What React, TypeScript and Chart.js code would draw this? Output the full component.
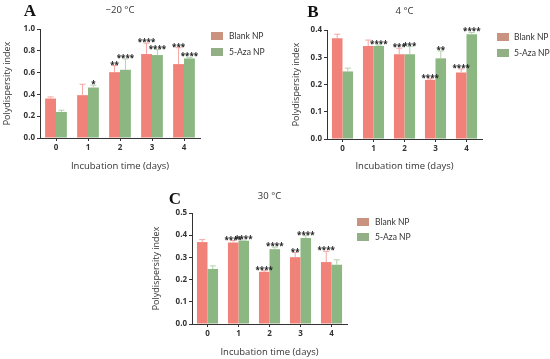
import React, { useEffect, useRef } from "react";
import { Chart, registerables } from "chart.js";
Chart.register(...registerables);

const days = ["0", "1", "2", "3", "4"];
const seriesNames = ["Blank NP", "5-Aza NP"];

// Panel A: -20 °C
const blankA = [0.362, 0.393, 0.604, 0.77, 0.678];
const azaA = [0.239, 0.463, 0.626, 0.761, 0.73];
const blankAErr = [0.015, 0.1, 0.06, 0.1, 0.15];
const azaAErr = [0.016, 0.022, 0.1, 0.05, 0.01];
const blankAStars = ["", "", "**", "****", "***"];
const azaAStars = ["", "*", "****", "****", "****"];

// Panel B: 4 °C
const blankB = [0.3695, 0.341, 0.311, 0.217, 0.244];
const azaB = [0.248, 0.341, 0.311, 0.296, 0.384];
const blankBErr = [0.015, 0.022, 0.022, 0.004, 0.013];
const azaBErr = [0.012, 0.004, 0.028, 0.027, 0.007];
const blankBStars = ["", "", "***", "****", "****"];
const azaBStars = ["", "****", "***", "**", "****"];

// Panel C: 30 °C
const blankC = [0.369, 0.367, 0.235, 0.301, 0.279];
const azaC = [0.248, 0.375, 0.337, 0.387, 0.267];
const blankCErr = [0.011, 0.009, 0.005, 0.021, 0.048];
const azaCErr = [0.014, 0.003, 0.009, 0.011, 0.022];
const blankCStars = ["", "****", "****", "**", "****"];
const azaCStars = ["", "****", "****", "****", ""];

const FONT = '"Open Sans", "DejaVu Sans", sans-serif';
const LEG_FONT = 'Lato, "Open Sans", sans-serif';
const barColors = ["#f08279", "#8cb782"];
const legendColors = ["#c9937f", "#93af86"];
const errColors = ["#f5a6a2", "#b4d2ad"];
const TEXT = "#333333";

type PanelProps = {
  left: number; top: number; width: number; height: number;
  pad: { left: number; top: number; right: number; bottom: number };
  yWidth: number; xHeight: number; yTitlePad: number; xTitlePad: number;
  yMax: number; yStep: number;
  blank: number[]; aza: number[]; blankErr: number[]; azaErr: number[];
  blankStars: string[]; azaStars: string[];
  title: string; titleDy: number;
  letter: string; letterDx: number; letterDy: number;
  legDx: number; legTextDx: number; legDy: number; legGap: number;
};

function Panel(p: PanelProps) {
  const ref = useRef<HTMLCanvasElement>(null);
  useEffect(() => {
    const errs = [p.blankErr, p.azaErr];
    const stars = [p.blankStars, p.azaStars];
    const decor = {
      id: "decor",
      afterDatasetsDraw(chart: any) {
        const ctx = chart.ctx;
        const ys = chart.scales.y;
        const ca = chart.chartArea;
        ctx.save();
        chart.data.datasets.forEach((ds: any, di: number) => {
          const meta = chart.getDatasetMeta(di);
          meta.data.forEach((bar: any, i: number) => {
            const v = ds.data[i];
            const yTop = ys.getPixelForValue(v + errs[di][i]);
            ctx.strokeStyle = errColors[di];
            ctx.lineWidth = 1;
            ctx.beginPath();
            ctx.moveTo(bar.x, bar.y);
            ctx.lineTo(bar.x, yTop);
            ctx.moveTo(bar.x - 3, yTop);
            ctx.lineTo(bar.x + 3, yTop);
            ctx.stroke();
            const s = stars[di][i];
            if (s) {
              ctx.fillStyle = "#222";
              ctx.font = `bold 8px ${FONT}`;
              ctx.textAlign = "center";
              ctx.textBaseline = "alphabetic";
              ctx.fillText(s, bar.x, yTop + 2);
            }
          });
        });
        // title
        ctx.fillStyle = TEXT;
        ctx.font = `9.5px ${FONT}`;
        ctx.textAlign = "center";
        ctx.textBaseline = "middle";
        ctx.fillText(p.title, (ca.left + ca.right) / 2, ca.top - p.titleDy);
        // letter
        ctx.fillStyle = "#111";
        ctx.font = `bold 17px "Liberation Serif", "DejaVu Serif", serif`;
        ctx.fillText(p.letter, ca.left + p.letterDx, ca.top - p.letterDy);
        // legend
        seriesNames.forEach((name, i) => {
          const y = ca.top + p.legDy + i * p.legGap;
          ctx.fillStyle = legendColors[i];
          ctx.fillRect(ca.right + p.legDx, y, 12, 8);
          ctx.fillStyle = TEXT;
          ctx.font = `8.5px ${LEG_FONT}`;
          ctx.textAlign = "left";
          ctx.textBaseline = "middle";
          ctx.fillText(name, ca.right + p.legTextDx, y + 4);
        });
        ctx.restore();
      },
    };
    const chart = new Chart(ref.current!, {
      type: "bar",
      data: {
        labels: days,
        datasets: [
          { label: seriesNames[0], data: p.blank, backgroundColor: barColors[0], categoryPercentage: 0.68, barPercentage: 1 },
          { label: seriesNames[1], data: p.aza, backgroundColor: barColors[1], categoryPercentage: 0.68, barPercentage: 1 },
        ],
      },
      options: {
        responsive: false,
        animation: false,
        layout: { padding: p.pad },
        plugins: { legend: { display: false }, tooltip: { enabled: false }, title: { display: false } },
        scales: {
          x: {
            afterFit: (s: any) => { s.height = p.xHeight; },
            grid: { display: true, offset: false, drawOnChartArea: false, drawTicks: true, tickLength: 3, color: TEXT },
            border: { display: true, color: TEXT, width: 1 },
            ticks: { color: TEXT, font: { family: FONT, size: 8, weight: "bold" }, padding: 2 },
            title: { display: true, text: "Incubation time (days)", color: TEXT, font: { family: FONT, size: 9.5 }, padding: { top: 0, bottom: p.xTitlePad } },
          },
          y: {
            min: 0, max: p.yMax,
            afterFit: (s: any) => { s.width = p.yWidth; },
            grid: { display: true, drawOnChartArea: false, drawTicks: true, tickLength: 3, color: TEXT },
            border: { display: true, color: TEXT, width: 1 },
            ticks: { stepSize: p.yStep, color: TEXT, font: { family: FONT, size: 8, weight: "bold" }, padding: 2, callback: (v: any) => Number(v).toFixed(1) },
            title: { display: true, text: "Polydispersity index", color: TEXT, font: { family: FONT, size: 9 }, padding: { top: p.yTitlePad, bottom: 0 } },
          },
        },
      },
      plugins: [decor],
    } as any);
    return () => chart.destroy();
  }, []);
  return (
    <canvas
      ref={ref}
      width={p.width}
      height={p.height}
      style={{ position: "absolute", left: p.left, top: p.top, width: p.width, height: p.height }}
    />
  );
}

export default function App() {
  return (
    <div style={{ position: "fixed", left: 0, top: 0, width: 550, height: 359, background: "#fff", overflow: "hidden" }}>
      <Panel
        left={0} top={0} width={275} height={180}
        pad={{ left: 0, top: 29, right: 75, bottom: 0 }}
        yWidth={40} xHeight={42} yTitlePad={2} xTitlePad={8}
        yMax={1.0} yStep={0.2}
        blank={blankA} aza={azaA} blankErr={blankAErr} azaErr={azaAErr}
        blankStars={blankAStars} azaStars={azaAStars}
        title="−20 °C" titleDy={19}
        letter="A" letterDx={-10} letterDy={17}
        legDx={11} legTextDx={29} legDy={3} legGap={16}
      />
      <Panel
        left={275} top={0} width={275} height={180}
        pad={{ left: 14, top: 30, right: 68, bottom: 0 }}
        yWidth={38} xHeight={41} yTitlePad={2} xTitlePad={8}
        yMax={0.4} yStep={0.1}
        blank={blankB} aza={azaB} blankErr={blankBErr} azaErr={azaBErr}
        blankStars={blankBStars} azaStars={azaBStars}
        title="4 °C" titleDy={19}
        letter="B" letterDx={-14} letterDy={17}
        legDx={15} legTextDx={32} legDy={3} legGap={16}
      />
      <Panel
        left={130} top={180} width={290} height={179}
        pad={{ left: 19, top: 33, right: 73, bottom: 0 }}
        yWidth={43} xHeight={35} yTitlePad={2} xTitlePad={1}
        yMax={0.5} yStep={0.1}
        blank={blankC} aza={azaC} blankErr={blankCErr} azaErr={azaCErr}
        blankStars={blankCStars} azaStars={azaCStars}
        title="30 °C" titleDy={17}
        letter="C" letterDx={-17} letterDy={13}
        legDx={10} legTextDx={28} legDy={5} legGap={15}
      />
    </div>
  );
}
